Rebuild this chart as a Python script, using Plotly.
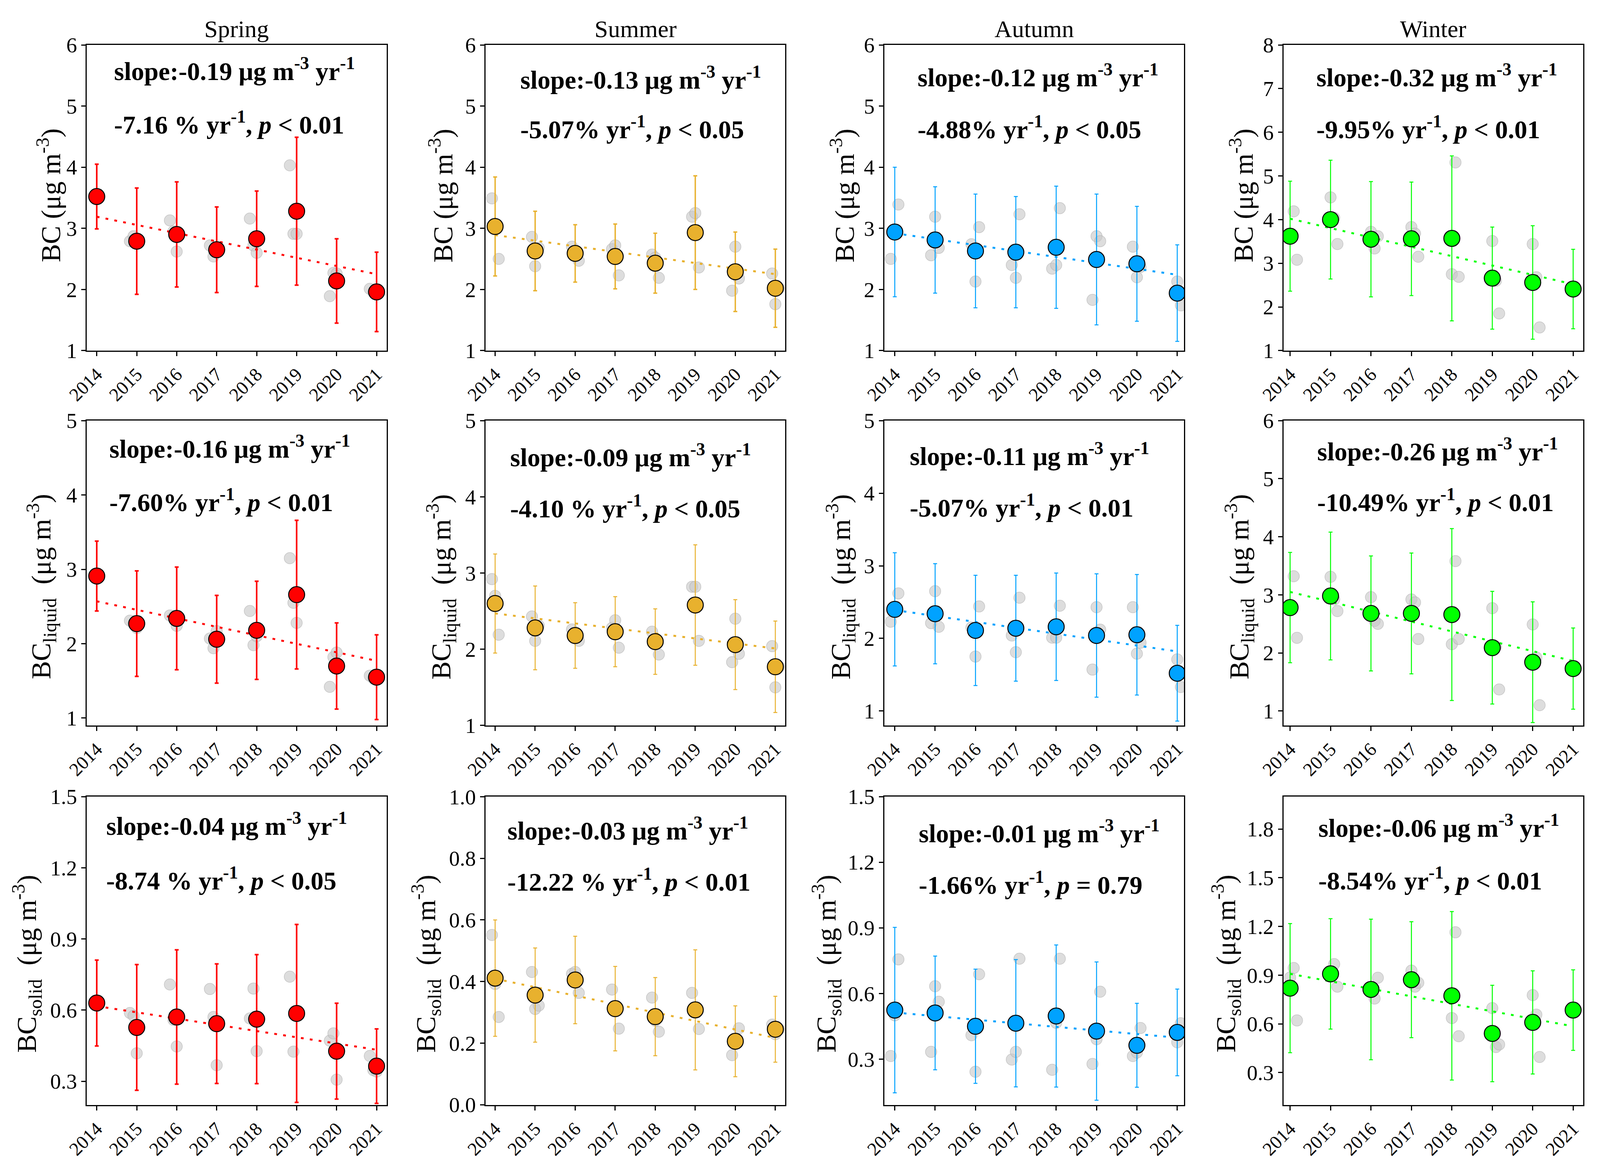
import plotly.graph_objects as go
from plotly.subplots import make_subplots

years = [2014, 2015, 2016, 2017, 2018, 2019, 2020, 2021]
year_labels = [str(y) for y in years]
seasons = ["Spring", "Summer", "Autumn", "Winter"]
season_colors = ["#FF0000", "#E8B12E", "#00A2FF", "#00FF00"]

# ---- Spring ----
spring_bc_mean = [3.52, 2.79, 2.90, 2.65, 2.83, 3.28, 2.14, 1.96]
spring_bc_err = [0.53, 0.87, 0.86, 0.70, 0.78, 1.21, 0.69, 0.65]
spring_bc_trend = [3.19, 2.25]
spring_bc_months = [[None, None, 3.52], [2.79, 2.87, 2.75], [3.13, 2.95, 2.62], [2.72, 2.54, 2.68],
                    [3.16, 2.72, 2.60], [4.03, 2.91, 2.91], [1.89, 2.27, 2.26], [2.01, 1.96, 1.95]]
spring_liq_mean = [2.91, 2.27, 2.34, 2.06, 2.18, 2.66, 1.70, 1.55]
spring_liq_err = [0.47, 0.71, 0.69, 0.59, 0.66, 1.00, 0.58, 0.57]
spring_liq_trend = [2.57, 1.77]
spring_liq_months = [[None, None, 2.91], [2.31, 2.27, 2.21], [2.38, 2.36, 2.24], [2.07, 1.94, 2.17],
                     [2.44, 1.98, 2.10], [3.15, 2.55, 2.28], [1.42, 1.82, 1.88], [1.57, 1.53, 1.55]]
spring_sol_mean = [0.630, 0.527, 0.571, 0.543, 0.562, 0.586, 0.427, 0.364]
spring_sol_err = [0.181, 0.265, 0.283, 0.252, 0.272, 0.375, 0.202, 0.157]
spring_sol_trend = [0.617, 0.433]
spring_sol_months = [[None, None, 0.63], [0.588, 0.576, 0.418], [0.708, 0.559, 0.447], [0.689, 0.571, 0.368],
                     [0.565, 0.691, 0.427], [0.741, 0.425, 0.586], [0.471, 0.502, 0.307], [0.407, 0.347, 0.341]]

# ---- Summer ----
summer_bc_mean = [3.03, 2.63, 2.59, 2.54, 2.43, 2.93, 2.29, 2.02]
summer_bc_err = [0.81, 0.65, 0.47, 0.53, 0.49, 0.93, 0.65, 0.64]
summer_bc_trend = [2.89, 2.25]
summer_bc_months = [[3.49, 3.05, 2.50], [2.86, 2.38, 2.68], [2.70, 2.59, 2.47], [2.66, 2.72, 2.23],
                    [2.57, 2.52, 2.19], [3.19, 3.25, 2.36], [1.98, 2.70, 2.18], [2.26, 1.76, 2.02]]
summer_liq_mean = [2.60, 2.28, 2.18, 2.23, 2.10, 2.58, 2.06, 1.77]
summer_liq_err = [0.65, 0.55, 0.43, 0.46, 0.43, 0.79, 0.59, 0.60]
summer_liq_trend = [2.47, 2.01]
summer_liq_months = [[2.92, 2.70, 2.19], [2.43, 2.11, 2.31], [2.26, 2.18, 2.11], [2.28, 2.38, 2.02],
                     [2.23, 2.10, 1.93], [2.82, 2.82, 2.11], [1.83, 2.40, 1.94], [2.04, 1.50, 1.77]]
summer_sol_mean = [0.411, 0.356, 0.405, 0.312, 0.286, 0.308, 0.206, 0.245]
summer_sol_err = [0.189, 0.153, 0.142, 0.137, 0.127, 0.195, 0.115, 0.107]
summer_sol_trend = [0.409, 0.217]
summer_sol_months = [[0.551, 0.392, 0.285], [0.431, 0.311, 0.322], [0.425, 0.431, 0.363], [0.374, 0.312, 0.247],
                     [0.348, 0.273, 0.237], [0.363, 0.308, 0.246], [0.161, 0.206, 0.248], [0.260, 0.229, 0.245]]

# ---- Autumn ----
autumn_bc_mean = [2.94, 2.81, 2.63, 2.61, 2.69, 2.49, 2.42, 1.94]
autumn_bc_err = [1.06, 0.87, 0.93, 0.91, 1.00, 1.07, 0.94, 0.79]
autumn_bc_trend = [2.92, 2.24]
autumn_bc_months = [[2.50, 2.94, 3.39], [2.56, 3.19, 2.68], [2.74, 2.13, 3.02], [2.40, 2.19, 3.23],
                    [2.34, 2.40, 3.33], [1.83, 2.87, 2.79], [2.70, 2.20, 2.37], [None, 2.13, 1.74]]
autumn_liq_mean = [2.40, 2.34, 2.11, 2.14, 2.16, 2.04, 2.05, 1.52]
autumn_liq_err = [0.78, 0.69, 0.76, 0.73, 0.74, 0.85, 0.83, 0.66]
autumn_liq_trend = [2.39, 1.82]
autumn_liq_months = [[2.23, 2.40, 2.62], [2.21, 2.65, 2.16], [2.15, 1.75, 2.44], [2.04, 1.81, 2.56],
                     [2.01, 2.01, 2.45], [1.57, 2.43, 2.12], [2.43, 1.79, 1.94], [None, 1.71, 1.33]]
autumn_sol_mean = [0.524, 0.511, 0.450, 0.464, 0.497, 0.428, 0.363, 0.422]
autumn_sol_err = [0.378, 0.260, 0.261, 0.291, 0.325, 0.316, 0.192, 0.198]
autumn_sol_trend = [0.513, 0.398]
autumn_sol_months = [[0.314, 0.500, 0.756], [0.333, 0.633, 0.562], [0.409, 0.242, 0.688], [0.298, 0.333, 0.759],
                     [0.251, 0.466, 0.759], [0.278, 0.391, 0.608], [0.314, 0.330, 0.442], [None, 0.377, 0.464]]

# ---- Winter ----
winter_bc_mean = [3.62, 4.00, 3.55, 3.56, 3.57, 2.66, 2.56, 2.41]
winter_bc_err = [1.26, 1.36, 1.32, 1.30, 1.89, 1.17, 1.30, 0.91]
winter_bc_trend = [4.02, 2.52]
winter_bc_months = [[3.62, 4.19, 3.08], [4.51, 4.04, 3.44], [3.72, 3.34, 3.62], [3.83, 3.68, 3.15],
                    [2.75, 5.31, 2.69], [3.51, 2.60, 1.85], [3.44, 2.68, 1.53], [2.41, None, None]]
winter_liq_mean = [2.78, 2.98, 2.68, 2.68, 2.66, 2.09, 1.84, 1.73]
winter_liq_err = [0.95, 1.10, 0.99, 1.04, 1.48, 0.97, 1.04, 0.70]
winter_liq_trend = [3.05, 1.86]
winter_liq_months = [[2.78, 3.32, 2.26], [3.31, 2.92, 2.72], [2.96, 2.55, 2.50], [2.92, 2.87, 2.24],
                     [2.15, 3.58, 2.24], [2.77, 2.11, 1.37], [2.49, 1.92, 1.10], [1.73, None, None]]
winter_sol_mean = [0.820, 0.908, 0.812, 0.872, 0.773, 0.541, 0.609, 0.685]
winter_sol_err = [0.398, 0.340, 0.433, 0.357, 0.519, 0.297, 0.318, 0.248]
winter_sol_trend = [0.908, 0.585]
winter_sol_months = [[0.885, 0.944, 0.621], [0.908, 0.968, 0.829], [0.812, 0.756, 0.884], [0.928, 0.829, 0.853],
                     [0.636, 1.164, 0.524], [0.697, 0.457, 0.473], [0.777, 0.657, 0.396], [0.685, None, None]]

# ---- labels ----
slope_labels = [["-0.19", "-0.16", "-0.04"], ["-0.13", "-0.09", "-0.03"],
                ["-0.12", "-0.11", "-0.01"], ["-0.32", "-0.26", "-0.06"]]
pct_labels = [["-7.16 %", "-7.60%", "-8.74 %"], ["-5.07%", "-4.10 %", "-12.22 %"],
              ["-4.88%", "-5.07%", "-1.66%"], ["-9.95%", "-10.49%", "-8.54%"]]
p_labels = [["&lt; 0.01", "&lt; 0.01", "&lt; 0.05"], ["&lt; 0.05", "&lt; 0.05", "&lt; 0.01"],
            ["&lt; 0.05", "&lt; 0.01", "= 0.79"], ["&lt; 0.01", "&lt; 0.01", "&lt; 0.01"]]
row_titles = ["BC (μg m<sup>-3</sup>)", "BC<sub>liquid</sub>  (μg m<sup>-3</sup>)",
              "BC<sub>solid</sub>  (μg m<sup>-3</sup>)"]

# ---- table built from the arrays ----
panel_data = [
    [(spring_bc_mean, spring_bc_err, spring_bc_trend, spring_bc_months),
     (spring_liq_mean, spring_liq_err, spring_liq_trend, spring_liq_months),
     (spring_sol_mean, spring_sol_err, spring_sol_trend, spring_sol_months)],
    [(summer_bc_mean, summer_bc_err, summer_bc_trend, summer_bc_months),
     (summer_liq_mean, summer_liq_err, summer_liq_trend, summer_liq_months),
     (summer_sol_mean, summer_sol_err, summer_sol_trend, summer_sol_months)],
    [(autumn_bc_mean, autumn_bc_err, autumn_bc_trend, autumn_bc_months),
     (autumn_liq_mean, autumn_liq_err, autumn_liq_trend, autumn_liq_months),
     (autumn_sol_mean, autumn_sol_err, autumn_sol_trend, autumn_sol_months)],
    [(winter_bc_mean, winter_bc_err, winter_bc_trend, winter_bc_months),
     (winter_liq_mean, winter_liq_err, winter_liq_trend, winter_liq_months),
     (winter_sol_mean, winter_sol_err, winter_sol_trend, winter_sol_months)],
]

# ---- style / layout constants ----
W, H = 4205, 2981
FONT = "Liberation Serif, Times New Roman, serif"
col_left = [228, 1276, 2324, 3373]
col_w = 788
row_top = [115, 1077, 2040]
row_bot = [898, 1858, 2830]
jitter = [[-0.17, -0.08, 0.0], [-0.08, 0.0, 0.09], [-0.1, 0.0, 0.09], [0.0, 0.09, 0.17]]
x_ranges = [[2013.75, 2021.25], [2013.76, 2021.25], [2013.74, 2021.17], [2013.835, 2021.25]]
y_ranges = [[[0.999, 6.001], [0.9, 5.001], [0.2, 1.5001]],
            [[0.999, 6.001], [0.999, 5.001], [-0.001, 1.0005]],
            [[0.999, 6.001], [0.8, 5.001], [0.09, 1.5001]],
            [[0.999, 8.001], [0.75, 6.001], [0.1, 2.0]]]
y_ticks = [[(1, 1), (1, 1), (0.3, 0.3)], [(1, 1), (1, 1), (0, 0.2)],
           [(1, 1), (1, 1), (0.3, 0.3)], [(1, 1), (1, 1), (0.3, 0.3)]]
err_thick = [[4, 4, 4], [3.5, 2.5, 2.5], [2.5, 2.5, 2.5], [2.5, 2.5, 2.5]]
ann_pos = [[(0.089, 0.080, 0.255), (0.073, 0.087, 0.262), (0.062, 0.089, 0.267)],
           [(0.113, 0.108, 0.270), (0.079, 0.115, 0.282), (0.070, 0.105, 0.270)],
           [(0.108, 0.100, 0.270), (0.083, 0.111, 0.280), (0.113, 0.113, 0.280)],
           [(0.107, 0.100, 0.270), (0.110, 0.096, 0.262), (0.114, 0.095, 0.266)]]
# distance (px) from the left axis line to the baseline of the y-title
title_gap = [[68, 95, 132], [85, 92, 131], [78, 90, 127], [78, 91, 126]]
title_center_shift = [29, 22, 22]
title_dy = [6, -35, -33]
TITLE_SIZE = 70

fig = make_subplots(rows=3, cols=4)

annotations = []
for c in range(4):
    color = season_colors[c]
    for r in range(3):
        mean, err, trend, months = panel_data[c][r]
        row, col = r + 1, c + 1
        # monthly grey points
        gx, gy = [], []
        for i, yr in enumerate(years):
            for k, v in enumerate(months[i]):
                if v is not None:
                    gx.append(yr + jitter[c][k])
                    gy.append(v)
        fig.add_trace(go.Scatter(x=gx, y=gy, mode="markers",
                                 marker=dict(size=29, color="rgba(200,200,200,0.62)",
                                             line=dict(color="rgba(175,175,175,0.6)", width=1.5)),
                                 showlegend=False, hoverinfo="skip"), row=row, col=col)
        # trend line
        fig.add_trace(go.Scatter(x=[years[0], years[-1]], y=trend, mode="lines",
                                 line=dict(color=color, width=5, dash="7px,16px"),
                                 showlegend=False, hoverinfo="skip"), row=row, col=col)
        # seasonal means with error bars
        fig.add_trace(go.Scatter(x=years, y=mean, mode="markers",
                                 marker=dict(size=41, color=color, line=dict(color="black", width=2.5)),
                                 error_y=dict(type="data", array=err, color=color,
                                              thickness=err_thick[c][r], width=5),
                                 showlegend=False), row=row, col=col)

        idx = r * 4 + c + 1
        sfx = "" if idx == 1 else str(idx)
        xd = [col_left[c] / W, (col_left[c] + col_w) / W]
        yd = [1 - row_bot[r] / H, 1 - row_top[r] / H]
        t0, dt = y_ticks[c][r]
        fig.layout["xaxis" + sfx].update(
            domain=xd, range=x_ranges[c], tickvals=years, ticktext=year_labels, tickangle=-45,
            ticks="outside", ticklen=11, tickwidth=2.5, tickcolor="black", automargin=False,
            showline=True, linewidth=2.5, linecolor="black", mirror=True,
            showgrid=False, zeroline=False, tickfont=dict(family=FONT, size=48, color="black"))
        fig.layout["yaxis" + sfx].update(
            domain=yd, range=y_ranges[c][r], tick0=t0, dtick=dt,
            tickformat=(".1f" if r == 2 else "d"), automargin=False,
            ticks="outside", ticklen=11, tickwidth=2.5, tickcolor="black",
            showline=True, linewidth=2.5, linecolor="black", mirror=True,
            showgrid=False, zeroline=False, tickfont=dict(family=FONT, size=55, color="black"))

        xref = "x" + sfx + " domain"
        yref = "y" + sfx + " domain"
        # y-axis title (as rotated text so its distance from the axis can be set)
        annotations.append(dict(
            xref=xref, yref=yref, x=0, y=0.5, xanchor="center", yanchor="middle",
            xshift=-(title_gap[c][r] + title_center_shift[r]), yshift=title_dy[r],
            textangle=-90, showarrow=False, text=row_titles[r],
            font=dict(family=FONT, size=TITLE_SIZE, color="black")))

        ax, ay1, ay2 = ann_pos[c][r]
        annotations.append(dict(
            xref=xref, yref=yref, x=ax, y=1 - ay1, xanchor="left", yanchor="middle", showarrow=False,
            text="<b>slope:" + slope_labels[c][r] + " μg m<sup>-3</sup> yr<sup>-1</sup></b>",
            font=dict(family=FONT, size=66, color="black")))
        annotations.append(dict(
            xref=xref, yref=yref, x=ax, y=1 - ay2, xanchor="left", yanchor="middle", showarrow=False,
            text="<b>" + pct_labels[c][r] + " yr<sup>-1</sup>, <i>p</i> " + p_labels[c][r] + "</b>",
            font=dict(family=FONT, size=66, color="black")))

    annotations.append(dict(
        xref="paper", yref="paper", x=(col_left[c] + col_w / 2) / W, y=1 - 110 / H,
        xanchor="center", yanchor="bottom", showarrow=False, text=seasons[c],
        font=dict(family=FONT, size=62, color="black")))

fig.update_layout(autosize=True, margin=dict(l=0, r=0, t=0, b=0, autoexpand=False),
                  template="none", plot_bgcolor="white", paper_bgcolor="white",
                  font=dict(family=FONT, color="black"), annotations=annotations)

fit_page = ("document.documentElement.style.margin='0';document.body.style.margin='0';"
            "document.body.style.padding='0';document.body.style.overflow='hidden';"
            "Plotly.Plots.resize(document.getElementById('{plot_id}'));")

fig.write_html("out.html", default_width="100vw", default_height="100vh",
               config={"responsive": True, "displayModeBar": False}, post_script=fit_page)
